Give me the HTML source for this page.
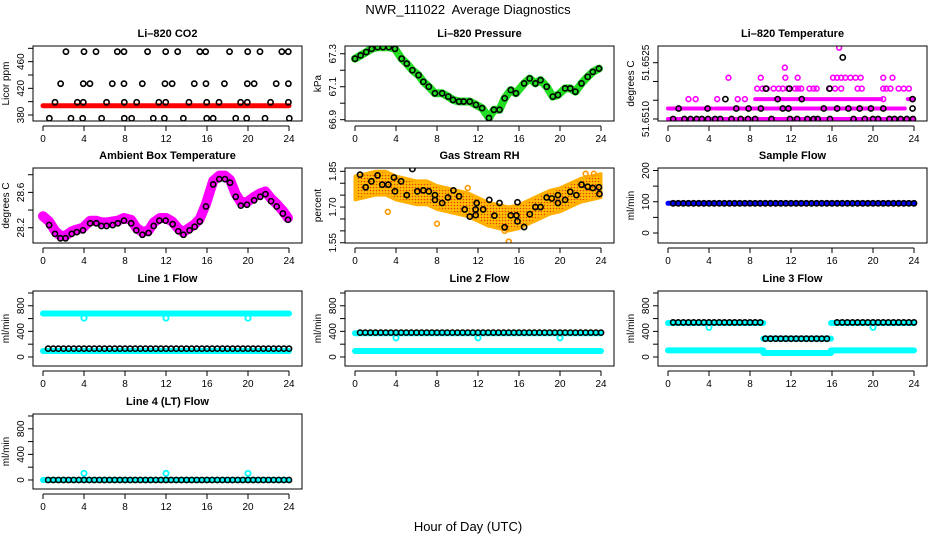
<!DOCTYPE html>
<html><head><meta charset="utf-8"><title>NWR_111022 Average Diagnostics</title>
<style>
html,body{margin:0;padding:0;background:#fff;}
svg{display:block;font-family:"Liberation Sans",Arial,sans-serif;}
</style></head>
<body>
<svg id="chart" width="936" height="540" viewBox="0 0 936 540" xmlns="http://www.w3.org/2000/svg">
<defs>
<pattern id="rhPat" width="3" height="3" patternUnits="userSpaceOnUse">
<rect width="3" height="3" fill="#ffc000"/><circle cx="1.5" cy="1.5" r="0.8" fill="#e8400a"/>
</pattern>
</defs>
<text x="468" y="14" font-size="13" text-anchor="middle">NWR_111022&#160; Average Diagnostics</text>
<text x="468" y="531" font-size="13" text-anchor="middle">Hour of Day (UTC)</text>
<g id="plots"></g>
</svg>
<script>
// ---------- data ----------
const xTicks = [0,4,8,12,16,20,24];
const halfHours = [0.5,1,1.5,2,2.5,3,3.5,4,4.5,5,5.5,6,6.5,7,7.5,8,8.5,9,9.5,10,10.5,11,11.5,12,12.5,13,13.5,14,14.5,15,15.5,16,16.5,17,17.5,18,18.5,19,19.5,20,20.5,21,21.5,22,22.5,23,23.5,24];

// CO2
const co2TickVals = [380,400,420,440,460,480];
const co2TickLabels = ["380","","420","","460",""];
const co2BandHours = [0,24];
const co2BandVals = [394,394];
const co2CircHours = [2.24,4.0,5.17,7.25,7.9,10.2,11.97,13.14,15.3,15.87,18.2,19.97,21.17,23.3,23.93,
 1.72,3.93,4.58,6.76,7.9,9.69,11.9,12.6,14.76,15.9,17.7,19.93,20.6,22.75,23.94,
 1.17,3.35,3.93,6.2,7.93,9.14,11.3,11.97,14.24,15.97,17.17,19.28,19.93,22.2,23.94,
 0.62,2.73,3.87,5.72,7.93,8.65,10.76,11.84,13.69,15.97,16.6,18.8,19.87,21.66,24.03];
const co2CircVals = [475,475,475,475,475,475,475,475,475,475,475,475,475,475,475,
 427,427,427,427,427,427,427,427,427,427,427,427,427,427,427,
 399,399,399,399,399,399,399,399,399,399,399,399,399,399,399,
 375,375,375,375,375,375,375,375,375,375,375,375,375,375,375];

// Pressure
const presTickVals = [66.9,67.0,67.1,67.2,67.3];
const presTickLabels = ["66.9","","67.1","","67.3"];
const presHours = [0,0.55,1.1,1.63,2.2,2.73,3.3,3.9,4.55,5.05,5.6,6.2,6.67,7.2,7.8,8.5,9.1,9.56,10.15,10.6,11.2,11.8,12.4,13.07,13.55,14.1,14.6,15.2,15.7,16.5,17.04,17.6,18.1,18.7,19.3,19.8,20.5,21.0,21.5,22.1,22.7,23.2,23.8];
const presVals = [67.27,67.29,67.31,67.33,67.34,67.34,67.34,67.33,67.27,67.24,67.2,67.17,67.13,67.10,67.06,67.06,67.04,67.02,67.01,67.01,67.01,66.99,66.97,66.91,66.96,66.96,67.03,67.08,67.06,67.12,67.15,67.12,67.14,67.10,67.04,67.05,67.09,67.09,67.07,67.12,67.16,67.19,67.21];

// Li-820 temperature
const ltTickVals = [51.6510,51.6515,51.6520,51.6525];
const ltTickLabels = ["51.6510","","","51.6525"];
const ltSegStart = [0,0,4.6,8.5,11.0,23.4];
const ltSegEnd = [24,4.3,23.1,10.7,20.8,24];
const ltSegVal = [51.6510,51.65128,51.65128,51.65153,51.65153,51.65153];
const ltMagHours = [2.0,2.7,4.8,6.8,7.5,21.0,8.7,9.2,9.65,10.3,10.8,11.2,11.7,12.4,12.7,13.0,13.8,14.2,14.5,15.8,16.3,16.9,18.5,18.9,21.0,21.3,21.7,22.5,23.0,23.5,5.9,9.05,11.45,12.65,16.1,16.5,16.9,17.3,17.8,18.3,18.8,21.0,21.9,11.4,16.7];
const ltMagVals = [51.65153,51.65153,51.65153,51.65153,51.65153,51.65153,51.65181,51.65181,51.65181,51.65181,51.65181,51.65181,51.65181,51.65181,51.65181,51.65181,51.65181,51.65181,51.65181,51.65181,51.65181,51.65181,51.65181,51.65181,51.65181,51.65181,51.65181,51.65181,51.65181,51.65181,51.6521,51.6521,51.6521,51.6521,51.6521,51.6521,51.6521,51.6521,51.6521,51.6521,51.6521,51.6521,51.6521,51.65237,51.6529];
const ltCircHours = [0.5,1.6,2.2,2.8,3.3,3.9,4.6,5.1,6.2,7.1,7.8,8.5,10.1,11.9,12.6,13.6,14.2,14.6,15.8,18.1,19.2,20.0,20.5,21.6,22.1,22.7,23.3,23.9,
 1.04,3.86,6.66,7.86,9.06,11.2,11.75,15.2,16.5,17.6,18.7,19.8,21.0,23.86,
 5.6,10.7,13.05,23.86,9.55,11.85,15.75,17.05];
const ltCircVals = [51.6510,51.6510,51.6510,51.6510,51.6510,51.6510,51.6510,51.6510,51.6510,51.6510,51.6510,51.6510,51.6510,51.6510,51.6510,51.6510,51.6510,51.6510,51.6510,51.6510,51.6510,51.6510,51.6510,51.6510,51.6510,51.6510,51.6510,51.6510,
 51.65128,51.65128,51.65128,51.65128,51.65128,51.65128,51.65128,51.65128,51.65128,51.65128,51.65128,51.65128,51.65128,51.65128,
 51.65153,51.65153,51.65153,51.65153,51.65181,51.65181,51.65181,51.65264];

// Ambient box temperature
const ambTickVals = [28.2,28.4,28.6,28.8];
const ambTickLabels = ["28.2","","28.6",""];
const ambBandHours = [0,0.6,1.2,1.7,2.2,2.8,3.3,3.9,4.6,5.2,5.7,6.2,6.8,7.3,7.9,8.6,9.1,9.7,10.3,10.8,11.4,12,12.6,13.2,13.7,14.3,14.8,15.3,15.9,16.6,17.2,17.75,18.25,18.8,19.3,19.9,20.6,21.2,21.7,22.25,22.8,23.4,23.9];
const ambBandVals = [28.33,28.27,28.16,28.11,28.11,28.16,28.18,28.2,28.28,28.28,28.26,28.26,28.27,28.28,28.31,28.29,28.2,28.15,28.17,28.26,28.31,28.31,28.27,28.19,28.15,28.2,28.24,28.3,28.47,28.73,28.79,28.79,28.74,28.58,28.49,28.49,28.55,28.59,28.61,28.53,28.47,28.39,28.31];
const ambCircHours = [0.6,1.17,1.7,2.2,2.8,3.3,3.9,4.6,5.2,5.7,6.2,6.8,7.3,7.9,8.6,9.1,9.7,10.3,10.8,11.35,11.96,12.65,13.2,13.7,14.3,14.8,15.3,15.9,16.6,17.2,17.75,18.25,18.8,19.3,19.9,20.6,21.2,21.7,22.25,22.8,23.4,23.9];
const ambCircVals = [28.23,28.13,28.08,28.08,28.13,28.15,28.17,28.25,28.25,28.22,28.22,28.23,28.25,28.28,28.25,28.17,28.12,28.14,28.22,28.28,28.28,28.24,28.16,28.12,28.17,28.21,28.27,28.44,28.69,28.75,28.75,28.71,28.55,28.45,28.46,28.51,28.55,28.58,28.5,28.44,28.36,28.29];

// Gas stream RH
const rhTickVals = [1.55,1.60,1.65,1.70,1.75,1.80,1.85];
const rhTickLabels = ["1.55","","","1.70","","","1.85"];
const rhBandHours = [0,1,2,3,4,5,6,7,8,9,10,11,12,13,14,15,16,17,18,19,20,21,22,23,24];
const rhBandLow = [1.73,1.74,1.75,1.75,1.73,1.72,1.71,1.71,1.69,1.68,1.67,1.66,1.64,1.62,1.61,1.60,1.61,1.63,1.65,1.67,1.68,1.70,1.72,1.73,1.74];
const rhBandHigh = [1.83,1.84,1.85,1.85,1.83,1.82,1.81,1.81,1.79,1.78,1.77,1.76,1.74,1.72,1.71,1.70,1.71,1.73,1.75,1.77,1.78,1.80,1.82,1.83,1.84];
const rhOutHours = [3.2,8.0,15.0,22.5,23.3,11.0,14.6];
const rhOutVals = [1.68,1.63,1.555,1.84,1.84,1.78,1.60];
const rhCircHours = [0.49,1.04,1.6,2.2,2.66,3.25,3.8,3.9,4.5,5.05,5.6,6.08,6.67,7.2,7.8,7.8,8.5,9.07,9.6,10.15,10.7,11.2,11.77,11.77,11.87,12.5,13.1,13.6,14.1,14.6,15.2,15.75,15.85,15.85,16.5,17.05,17.6,18.1,18.7,19.2,19.8,19.8,20.5,21.0,21.6,22.1,22.7,23.2,23.8,23.85];
const rhCircVals = [1.836,1.783,1.808,1.833,1.794,1.794,1.824,1.766,1.808,1.75,1.86,1.766,1.77,1.766,1.75,1.73,1.717,1.74,1.77,1.745,1.69,1.66,1.69,1.666,1.717,1.69,1.73,1.664,1.717,1.615,1.665,1.665,1.72,1.64,1.616,1.67,1.70,1.70,1.74,1.736,1.75,1.717,1.73,1.764,1.75,1.794,1.785,1.78,1.783,1.755];

// Sample flow
const sfTickVals = [0,50,100,150,200];
const sfTickLabels = ["0","","100","","200"];
const sfBandHours = [0,24];
const sfBandVals = [95,95];
const sfCircVals = [95,95,95,95,95,95,95,95,95,95,95,95,95,95,95,95,95,95,95,95,95,95,95,95,95,95,95,95,95,95,95,95,95,95,95,95,95,95,95,95,95,95,95,95,95,95,95,95];

// Flow panels
const flowTickVals = [0,200,400,600,800,1000];
const flowTickLabels = ["0","","400","","800",""];
const l1SegStart = [0,0], l1SegEnd = [24,24], l1SegVal = [680,94];
const l1DipHours = [4,12,20], l1DipVals = [607,607,607];
const l1CircVals = [130,130,130,130,130,130,130,130,130,130,130,130,130,130,130,130,130,130,130,130,130,130,130,130,130,130,130,130,130,130,130,130,130,130,130,130,130,130,130,130,130,130,130,130,130,130,130,130];
const l2SegStart = [0,0], l2SegEnd = [24,24], l2SegVal = [370,94];
const l2DipHours = [4,12,20], l2DipVals = [298,298,298];
const l2CircVals = [381,381,381,381,381,381,381,381,381,381,381,381,381,381,381,381,381,381,381,381,381,381,381,381,381,381,381,381,381,381,381,381,381,381,381,381,381,381,381,381,381,381,381,381,381,381,381,381];
const l3SegStart = [0,9.3,15.9,0,9.3,15.9], l3SegEnd = [9.3,15.9,24,9.3,15.9,24], l3SegVal = [530,286,530,103,62,103];
const l3DipHours = [4,20], l3DipVals = [462,462];
const l3CircHours = [0.5,1,1.5,2,2.5,3,3.5,4,4.5,5,5.5,6,6.5,7,7.5,8,8.5,9,9.5,10,10.5,11,11.5,12,12.5,13,13.5,14,14.5,15,15.5,16.5,17,17.5,18,18.5,19,19.5,20,20.5,21,21.5,22,22.5,23,23.5,24];
const l3CircVals = [540,540,540,540,540,540,540,540,540,540,540,540,540,540,540,540,540,540,286,286,286,286,286,286,286,286,286,286,286,286,286,540,540,540,540,540,540,540,540,540,540,540,540,540,540,540,540];
const l4SegStart = [0], l4SegEnd = [24], l4SegVal = [0];
const l4DipHours = [4,12,20], l4DipVals = [103,103,103];
const l4CircVals = [0,0,0,0,0,0,0,0,0,0,0,0,0,0,0,0,0,0,0,0,0,0,0,0,0,0,0,0,0,0,0,0,0,0,0,0,0,0,0,0,0,0,0,0,0,0,0,0];

// ---------- layout ----------
const NS = "http://www.w3.org/2000/svg";
const COLS = [33,345,658], ROWS = [46,168,291,414], W = 269, H = 75;
const root = document.getElementById('plots');
function mk(tag, attrs, parent){ const e = document.createElementNS(NS, tag); for (const k in attrs) e.setAttribute(k, attrs[k]); (parent||root).appendChild(e); return e; }
function px(p,h){ return COLS[p.col] + 10 + h*246/24; }
function py(p,v){ return p.top + H - (v - p.ymin)/(p.ymax - p.ymin)*H; }

function panel(name, title, ytitle, col, row, ymin, ymax, tickVals, tickLabels){
  const p = {col:col, top:ROWS[row], left:COLS[col], ymin:ymin, ymax:ymax};
  const g = mk('g', {});
  
  
  p.g = g;
  const cp = mk('clipPath', {id:'clip-'+name}, g);
  mk('rect', {x:p.left, y:p.top, width:W, height:H}, cp);
  p.marks = mk('g', {'clip-path':'url(#clip-'+name+')'}, g);
  
  
  const box = mk('rect', {x:p.left, y:p.top, width:W, height:H, fill:'none', stroke:'#000', 'stroke-width':1}, g);
  
  
  const t = mk('text', {x:p.left+W/2, y:p.top-9, 'font-size':11, 'font-weight':'bold', 'text-anchor':'middle'}, g);
  t.textContent = title;
  
  
  const yt = mk('text', {transform:'translate('+(p.left-24)+','+(p.top+H/2)+') rotate(-90)', 'font-size':10, 'text-anchor':'middle'}, g);
  yt.textContent = ytitle;
  
  
  const xb = p.top + H + 5;
  const xa = mk('line', {x1:px(p,xTicks[0]), x2:px(p,xTicks[xTicks.length-1]), y1:xb, y2:xb, stroke:'#000'}, g);
  
  
  xTicks.forEach(function(h){
    mk('line', {x1:px(p,h), x2:px(p,h), y1:xb, y2:xb+5, stroke:'#000'}, g);
    const l = mk('text', {x:px(p,h), y:xb+16, 'font-size':10, 'text-anchor':'middle'}, g);
    l.textContent = String(h);
    
    
  });
  const ya = mk('line', {x1:p.left, x2:p.left, y1:py(p,tickVals[0]), y2:py(p,tickVals[tickVals.length-1]), stroke:'#000'}, g);
  
  
  tickVals.forEach(function(v,i){
    const y = py(p,v);
    mk('line', {x1:p.left-5, x2:p.left, y1:y, y2:y, stroke:'#000'}, g);
    if (tickLabels[i]) {
      const l = mk('text', {transform:'translate('+(p.left-9)+','+y+') rotate(-90)', 'font-size':10, 'text-anchor':'middle'}, g);
      l.textContent = tickLabels[i];
      
      
    }
  });
  return p;
}
function band(p, hours, vals, color, width, nm){
  const pts = hours.map(function(h,i){ return px(p,h).toFixed(1)+','+py(p,vals[i]).toFixed(1); }).join(' ');
  const e = mk('polyline', {points:pts, fill:'none', stroke:color, 'stroke-width':width, 'stroke-linejoin':'round', 'stroke-linecap':'round'}, p.marks);
  
  
}
function segs(p, s, e2, v, color, width, nm){
  s.forEach(function(st,i){
    const e = mk('line', {x1:px(p,st), x2:px(p,e2[i]), y1:py(p,v[i]), y2:py(p,v[i]), stroke:color, 'stroke-width':width, 'stroke-linecap':'round'}, p.marks);
    
    
  });
}
function circles(p, hours, vals, color, r, sw, nm){
  hours.forEach(function(h,i){
    const c = mk('circle', {cx:px(p,h), cy:py(p,vals[i]), r:r, fill:'none', stroke:color, 'stroke-width':sw}, p.marks);
    
    
  });
}

let p = panel('co2', 'Li\u2013820 CO2', 'Licor ppm', 0, 0, 371, 483.5, co2TickVals, co2TickLabels);
band(p, co2BandHours, co2BandVals, '#ff0000', 5, 'co2-raw-band');
circles(p, co2CircHours, co2CircVals, '#000', 2.6, 1.6, 'co2-average-point');

p = panel('pressure', 'Li\u2013820 Pressure', 'kPa', 1, 0, 66.892, 67.347, presTickVals, presTickLabels);
band(p, presHours, presVals, '#22dd22', 8, 'pressure-raw-band');
circles(p, presHours, presVals, '#000', 2.6, 1.6, 'pressure-average-point');

p = panel('li820-temp', 'Li\u2013820 Temperature', 'degrees C', 2, 0, 51.650947, 51.652945, ltTickVals, ltTickLabels);
segs(p, ltSegStart, ltSegEnd, ltSegVal, '#ff00ff', 4, 'li820-temp-raw-band');
circles(p, ltMagHours, ltMagVals, '#ff00ff', 2.4, 1.6, 'li820-temp-raw-point');
circles(p, ltCircHours, ltCircVals, '#000', 2.6, 1.6, 'li820-temp-average-point');

p = panel('ambient', 'Ambient Box Temperature', 'degrees C', 0, 1, 28.027, 28.876, ambTickVals, ambTickLabels);
band(p, ambBandHours, ambBandVals, '#ff00ff', 10, 'ambient-raw-band');
circles(p, ambCircHours, ambCircVals, '#000', 2.6, 1.6, 'ambient-average-point');

p = panel('rh', 'Gas Stream RH', 'percent', 1, 1, 1.549, 1.864, rhTickVals, rhTickLabels);
(function(){
  const up = rhBandHours.map(function(h,i){ return px(p,h).toFixed(1)+','+py(p,rhBandHigh[i]).toFixed(1); });
  const dn = rhBandHours.map(function(h,i){ return px(p,h).toFixed(1)+','+py(p,rhBandLow[i]).toFixed(1); }).reverse();
  const e = mk('polygon', {points:up.concat(dn).join(' '), fill:'url(#rhPat)', stroke:'#ffb000', 'stroke-width':3, 'stroke-linejoin':'round'}, p.marks);
  
  
})();
circles(p, rhOutHours, rhOutVals, '#ff9900', 2.4, 1.6, 'rh-raw-outlier');
circles(p, rhCircHours, rhCircVals, '#000', 2.6, 1.6, 'rh-average-point');

p = panel('sample-flow', 'Sample Flow', 'ml/min', 2, 1, -32, 208, sfTickVals, sfTickLabels);
band(p, sfBandHours, sfBandVals, '#0000ff', 5, 'sample-flow-raw-band');
circles(p, halfHours, sfCircVals, '#000', 2.6, 1.6, 'sample-flow-average-point');

p = panel('line1', 'Line 1 Flow', 'ml/min', 0, 2, -141, 1031, flowTickVals, flowTickLabels);
segs(p, l1SegStart, l1SegEnd, l1SegVal, '#00ffff', 6, 'line1-raw-band');
circles(p, l1DipHours, l1DipVals, '#00ffff', 2.6, 1.8, 'line1-raw-dip');
circles(p, halfHours, l1CircVals, '#000', 2.6, 1.6, 'line1-average-point');

p = panel('line2', 'Line 2 Flow', 'ml/min', 1, 2, -141, 1031, flowTickVals, flowTickLabels);
segs(p, l2SegStart, l2SegEnd, l2SegVal, '#00ffff', 6, 'line2-raw-band');
circles(p, l2DipHours, l2DipVals, '#00ffff', 2.6, 1.8, 'line2-raw-dip');
circles(p, halfHours, l2CircVals, '#000', 2.6, 1.6, 'line2-average-point');

p = panel('line3', 'Line 3 Flow', 'ml/min', 2, 2, -141, 1031, flowTickVals, flowTickLabels);
segs(p, l3SegStart, l3SegEnd, l3SegVal, '#00ffff', 6, 'line3-raw-band');
circles(p, l3DipHours, l3DipVals, '#00ffff', 2.6, 1.8, 'line3-raw-dip');
circles(p, l3CircHours, l3CircVals, '#000', 2.6, 1.6, 'line3-average-point');

p = panel('line4', 'Line 4 (LT) Flow', 'ml/min', 0, 3, -141, 1031, flowTickVals, flowTickLabels);
segs(p, l4SegStart, l4SegEnd, l4SegVal, '#00ffff', 6, 'line4-raw-band');
circles(p, l4DipHours, l4DipVals, '#00ffff', 2.6, 1.8, 'line4-raw-dip');
circles(p, halfHours, l4CircVals, '#000', 2.6, 1.6, 'line4-average-point');
</script>
</body></html>
